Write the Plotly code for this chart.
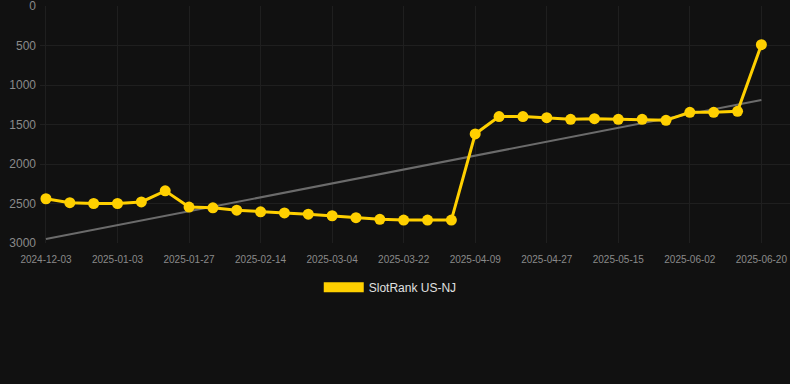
import plotly.graph_objects as go

dates = ["2024-12-03", "2024-12-13", "2024-12-23", "2025-01-03", "2025-01-11", "2025-01-19",
         "2025-01-27", "2025-02-02", "2025-02-08", "2025-02-14", "2025-02-20", "2025-02-26",
         "2025-03-04", "2025-03-10", "2025-03-16", "2025-03-22", "2025-03-28", "2025-04-03",
         "2025-04-09", "2025-04-15", "2025-04-21", "2025-04-27", "2025-05-03", "2025-05-09",
         "2025-05-15", "2025-05-21", "2025-05-27", "2025-06-02", "2025-06-08", "2025-06-14",
         "2025-06-20"]
rank = [2440, 2490, 2500, 2500, 2480, 2340, 2545, 2555, 2585, 2605, 2620, 2635,
        2655, 2680, 2700, 2710, 2710, 2710, 1620, 1400, 1400, 1414, 1434, 1427,
        1434, 1434, 1447, 1346, 1346, 1333, 490]
trend_dates = ["2024-12-03", "2025-06-20"]
trend_values = [2950, 1190]
tick_labels = dates[::3]
series_name = "SlotRank US-NJ"

gold = "#FFD000"
fig = go.Figure()
fig.add_trace(go.Scatter(x=trend_dates, y=trend_values, mode="lines",
                         line=dict(color="#6b6b6b", width=2), showlegend=False, hoverinfo="skip"))
fig.add_trace(go.Scatter(x=dates, y=rank, mode="lines+markers",
                         line=dict(color=gold, width=3),
                         marker=dict(color=gold, size=11),
                         showlegend=False))
fig.add_trace(go.Scatter(x=[None], y=[None], mode="lines", name=series_name,
                         line=dict(color=gold, width=12)))

fig.update_layout(
    width=790, height=384,
    paper_bgcolor="#111111", plot_bgcolor="#111111",
    margin=dict(l=40, r=0, t=6, b=141),
    xaxis=dict(type="category", categoryorder="array", categoryarray=dates,
               tickvals=tick_labels, ticktext=tick_labels,
               range=[-0.25, 31.2], showgrid=True, gridcolor="#1f1f1f", zeroline=False,
               tickfont=dict(family="Arial, Liberation Sans", size=10, color="#8a8a8a"),
               ticks="", showline=False, ticklabelstandoff=9, ticklabeloverflow="allow"),
    yaxis=dict(range=[3000, 0], tickvals=[0, 500, 1000, 1500, 2000, 2500, 3000],
               showgrid=True, gridcolor="#1f1f1f", zeroline=False,
               tickfont=dict(family="Arial, Liberation Sans", size=12, color="#8a8a8a"),
               ticks="", showline=False, ticklabeloverflow="allow", ticklabelstandoff=3),
    legend=dict(orientation="h", x=0.467, xanchor="center", y=-0.125, yanchor="top",
                itemwidth=40, font=dict(family="Arial, Liberation Sans", size=12, color="#e0e0e0"),
                bgcolor="rgba(0,0,0,0)"),
    showlegend=True,
)
fig.write_html("out.html", config={"displayModeBar": False},
               post_script="document.body.style.margin='0';document.body.style.background='#111111';")
